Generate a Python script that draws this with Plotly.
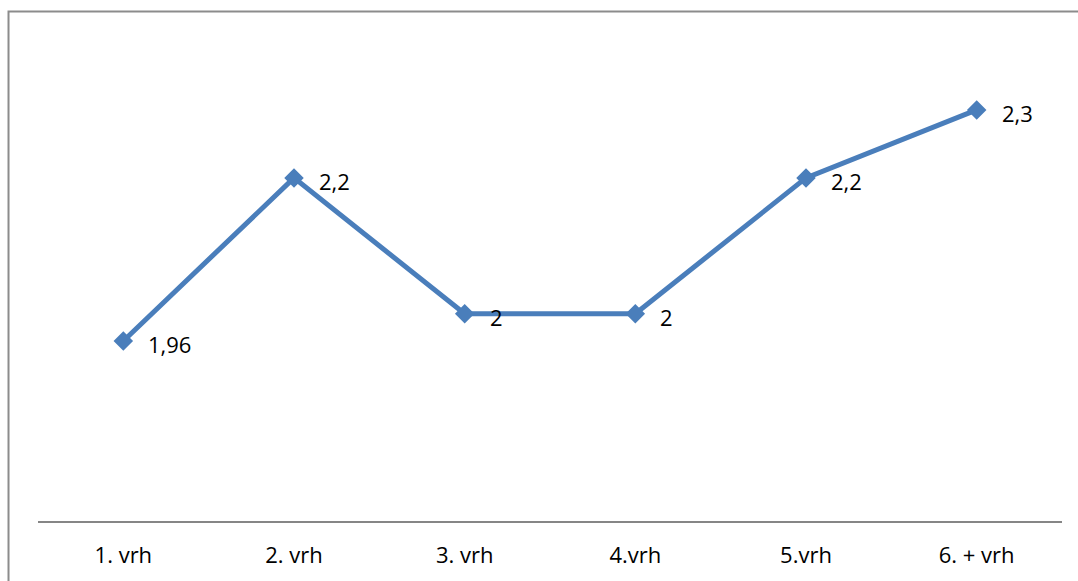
import plotly.graph_objects as go

# Series data
categories = ["1. vrh", "2. vrh", "3. vrh", "4.vrh", "5.vrh", "6. + vrh"]
values = [1.96, 2.2, 2.0, 2.0, 2.2, 2.3]
value_labels = ["1,96", "2,2", "2", "2", "2,2", "2,3"]

LINE_BLUE = "#4a7ebb"
FONT = "Open Sans"
FONT_SIZE = 22

fig = go.Figure()
fig.add_trace(go.Scatter(
    x=categories,
    y=values,
    mode="lines+markers",
    line=dict(color=LINE_BLUE, width=5),
    marker=dict(symbol="diamond", size=15, color=LINE_BLUE),
    hoverinfo="skip",
    showlegend=False,
))

# Value labels to the right of each point
for cat, val, lab in zip(categories, values, value_labels):
    fig.add_annotation(
        x=cat, y=val, text=lab, showarrow=False,
        xanchor="left", yanchor="middle", xshift=23, yshift=-3,
        font=dict(family=FONT, size=FONT_SIZE, color="#000000"),
    )

# Chart frame
fig.add_shape(
    type="rect", xref="paper", yref="paper",
    x0=-0.0288, y0=-0.3, x1=1.05, y1=1.0637,
    line=dict(color="#8c8c8c", width=2), fillcolor="rgba(0,0,0,0)",
    layer="below",
)

fig.update_layout(
    width=1078, height=581,
    margin=dict(l=38, r=16, t=42, b=60),
    paper_bgcolor="white", plot_bgcolor="white",
    font=dict(family=FONT, size=FONT_SIZE, color="#000000"),
    xaxis=dict(
        type="category", range=[-0.5, 5.5],
        showline=True, linecolor="#868686", linewidth=2,
        showgrid=False, zeroline=False, ticks="",
        ticklabelstandoff=14,
        tickfont=dict(family=FONT, size=FONT_SIZE, color="#000000"),
        fixedrange=True,
    ),
    yaxis=dict(
        range=[1.695, 2.4], visible=False, showgrid=False, zeroline=False,
        fixedrange=True,
    ),
)

fig.write_html("out.html")
